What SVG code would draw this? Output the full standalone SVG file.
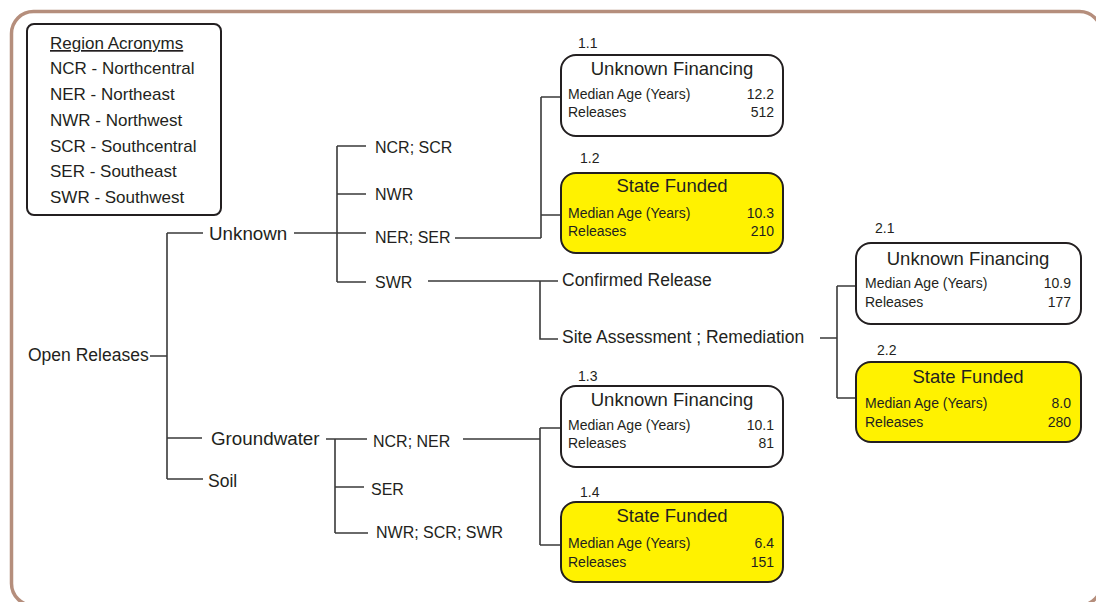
<svg xmlns="http://www.w3.org/2000/svg" width="1096" height="602" viewBox="0 0 1096 602">
<style>
  text { font-family: "Liberation Sans", Arial, sans-serif; fill: #231f20; }
  .lbl { font-size: 17.5px; }
  .big { font-size: 18.8px; }
  .reg { font-size: 16px; }
  .leg { font-size: 17px; }
  .ttl { font-size: 18.5px; text-anchor: middle; }
  .row { font-size: 14px; }
  .val { font-size: 14px; text-anchor: end; }
  .num { font-size: 14px; }
  .box { stroke: #231f20; stroke-width: 2; }
  .white { fill: #ffffff; }
  .yellow { fill: #fff200; }
  .conn { fill: none; stroke: #3a3a3a; stroke-width: 1.6; }
</style>
<rect width="1096" height="602" fill="#ffffff"/>
<rect x="11.5" y="11.5" width="1090" height="594" rx="22" fill="none" stroke="#b58e7c" stroke-width="3.5"/>

<g id="legend">
  <rect x="27" y="24" width="194" height="191" rx="7" class="box white"/>
  <text class="leg" x="50" y="49" text-decoration="underline">Region Acronyms</text>
  <text class="leg" x="50" y="74">NCR - Northcentral</text>
  <text class="leg" x="50" y="100">NER - Northeast</text>
  <text class="leg" x="50" y="126">NWR - Northwest</text>
  <text class="leg" x="50" y="152">SCR - Southcentral</text>
  <text class="leg" x="50" y="177">SER - Southeast</text>
  <text class="leg" x="50" y="203">SWR - Southwest</text>
</g>

<g id="connectors" class="conn">
  <path d="M150 356 H167 M167 233 V479 M167 233 H203 M167 438 H202 M167 479 H203"/>
  <path d="M294 233 H337 M337 146 V282 M337 146 H366 M337 194 H366 M337 233 H366 M337 282 H366"/>
  <path d="M455 238 H541 M541 97 V238 M541 97 H561 M541 215 H561"/>
  <path d="M428 281 H558 M540 281 V339 H558"/>
  <path d="M820 338 H837 M837 286 V398 M837 286 H856 M837 398 H856"/>
  <path d="M326 439 H367 M335 439 V533 M335 487 H364 M335 533 H368"/>
  <path d="M463 439 H540 M540 428 V545 M540 428 H561 M540 545 H561"/>
</g>

<g id="open-releases"><text class="lbl" x="28" y="361">Open Releases</text></g>
<g id="unknown"><text class="big" x="209" y="240">Unknown</text></g>
<g id="groundwater"><text class="big" x="211" y="445">Groundwater</text></g>
<g id="soil"><text class="lbl" x="208" y="487">Soil</text></g>
<g id="ncr-scr"><text class="reg" x="375" y="153">NCR; SCR</text></g>
<g id="nwr"><text class="reg" x="375" y="200">NWR</text></g>
<g id="ner-ser"><text class="reg" x="375" y="243">NER; SER</text></g>
<g id="swr"><text class="reg" x="375" y="288">SWR</text></g>
<g id="confirmed-release"><text class="lbl" x="562" y="286">Confirmed Release</text></g>
<g id="site-assessment"><text class="lbl" x="562" y="343">Site Assessment ; Remediation</text></g>
<g id="ncr-ner"><text class="reg" x="373" y="447">NCR; NER</text></g>
<g id="ser"><text class="reg" x="371" y="495">SER</text></g>
<g id="nwr-scr-swr"><text class="reg" x="376" y="538">NWR; SCR; SWR</text></g>

<g id="box-1-1">
  <text class="num" x="578" y="48">1.1</text>
  <rect x="561" y="55" width="222" height="81" rx="15" class="box white"/>
  <text class="ttl" x="672" y="75">Unknown Financing</text>
  <text class="row" x="568" y="99">Median Age (Years)</text>
  <text class="val" x="774" y="99">12.2</text>
  <text class="row" x="568" y="117">Releases</text>
  <text class="val" x="774" y="117">512</text>
</g>
<g id="box-1-2">
  <text class="num" x="580" y="163">1.2</text>
  <rect x="561" y="173" width="222" height="80" rx="15" class="box yellow"/>
  <text class="ttl" x="672" y="192">State Funded</text>
  <text class="row" x="568" y="218">Median Age (Years)</text>
  <text class="val" x="774" y="218">10.3</text>
  <text class="row" x="568" y="236">Releases</text>
  <text class="val" x="774" y="236">210</text>
</g>
<g id="box-2-1">
  <text class="num" x="875" y="233">2.1</text>
  <rect x="856" y="243" width="225" height="81" rx="15" class="box white"/>
  <text class="ttl" x="968" y="265">Unknown Financing</text>
  <text class="row" x="865" y="288">Median Age (Years)</text>
  <text class="val" x="1071" y="288">10.9</text>
  <text class="row" x="865" y="307">Releases</text>
  <text class="val" x="1071" y="307">177</text>
</g>
<g id="box-2-2">
  <text class="num" x="877" y="355">2.2</text>
  <rect x="856" y="362" width="225" height="80" rx="15" class="box yellow"/>
  <text class="ttl" x="968" y="383">State Funded</text>
  <text class="row" x="865" y="408">Median Age (Years)</text>
  <text class="val" x="1071" y="408">8.0</text>
  <text class="row" x="865" y="427">Releases</text>
  <text class="val" x="1071" y="427">280</text>
</g>
<g id="box-1-3">
  <text class="num" x="578" y="381">1.3</text>
  <rect x="561" y="386" width="222" height="81" rx="15" class="box white"/>
  <text class="ttl" x="672" y="406">Unknown Financing</text>
  <text class="row" x="568" y="430">Median Age (Years)</text>
  <text class="val" x="774" y="430">10.1</text>
  <text class="row" x="568" y="448">Releases</text>
  <text class="val" x="774" y="448">81</text>
</g>
<g id="box-1-4">
  <text class="num" x="580" y="497">1.4</text>
  <rect x="561" y="502" width="222" height="80" rx="15" class="box yellow"/>
  <text class="ttl" x="672" y="522">State Funded</text>
  <text class="row" x="568" y="548">Median Age (Years)</text>
  <text class="val" x="774" y="548">6.4</text>
  <text class="row" x="568" y="567">Releases</text>
  <text class="val" x="774" y="567">151</text>
</g>
</svg>
